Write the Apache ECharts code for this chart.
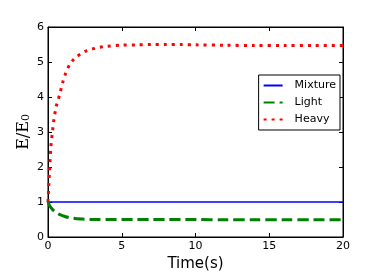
<!DOCTYPE html>
<html><head><meta charset="utf-8">
<script src="https://cdn.jsdelivr.net/npm/echarts@6/dist/echarts.min.js"></script>
<style>html,body{margin:0;padding:0;background:#fff}#c{width:381px;height:277px}</style>
</head><body><div id="c"></div>
<script>
const time = [0,0.05,0.1,0.2,0.3,0.4,0.5,0.6,0.8,1,1.2,1.5,1.75,2,2.5,3,3.5,4,5,6,7,8,9,10,12,14,16,18,20];
const mixture = [1,1,1,1,1,1,1,1,1,1,1,1,1,1,1,1,1,1,1,1,1,1,1,1,1,1,1,1,1];
const light = [1,0.95,0.9,0.84,0.79,0.75,0.72,0.69,0.64,0.61,0.58,0.55,0.535,0.52,0.51,0.5,0.5,0.5,0.5,0.5,0.5,0.5,0.5,0.5,0.49,0.49,0.49,0.49,0.49];
const heavy = [1,1.45,1.85,2.6,3.0,3.35,3.6,3.8,4.08,4.42,4.68,4.95,5.08,5.17,5.3,5.37,5.42,5.45,5.48,5.49,5.5,5.5,5.5,5.49,5.48,5.47,5.47,5.47,5.47];
const xTicks = [0,5,10,15,20];
const yTicks = [0,1,2,3,4,5,6];

const pairs = v => time.map((t,i)=>[t,v[i]]);
const chart = echarts.init(document.getElementById('c'));
const axisCommon = () => ({
  axisLine:{show:true,onZero:false,lineStyle:{color:'#000',width:1}},
  axisTick:{show:true,inside:true,length:4,lineStyle:{color:'#000'}},
  splitLine:{show:false}
});
chart.setOption({
  animation:false,
  textStyle:{fontFamily:'DejaVu Sans'},
  grid:{left:48,right:38,top:27,bottom:35,show:true,borderColor:'#000',borderWidth:1,backgroundColor:'transparent'},
  xAxis:[
    Object.assign({type:'value',min:0,max:20,interval:5,position:'bottom',
      name:'Time(s)',nameLocation:'middle',nameGap:20,nameMoveOverlap:false,
      nameTextStyle:{fontSize:15,color:'#000',fontFamily:'DejaVu Sans'},
      axisLabel:{fontSize:11,color:'#000',margin:4}},axisCommon()),
    Object.assign({type:'value',min:0,max:20,interval:5,position:'top',axisLabel:{show:false}},axisCommon())
  ],
  yAxis:[
    Object.assign({type:'value',min:0,max:6,interval:1,position:'left',
      name:'{a|E/E}{b|0}',nameLocation:'middle',nameGap:16,nameRotate:90,nameMoveOverlap:false,
      nameTextStyle:{rich:{a:{fontSize:16,fontFamily:'DejaVu Serif',color:'#000'},b:{fontSize:11,fontFamily:'DejaVu Serif',color:'#000',padding:[6,0,0,0]}}},
      axisLabel:{fontSize:11,color:'#000',margin:4}},axisCommon()),
    Object.assign({type:'value',min:0,max:6,interval:1,position:'right',axisLabel:{show:false}},axisCommon())
  ],
  legend:{
    orient:'vertical',right:41,top:75,
    backgroundColor:'#fff',borderColor:'#000',borderWidth:1,borderRadius:0,
    padding:[5,4,5,4],itemWidth:19,itemHeight:12,itemGap:6,
    textStyle:{fontSize:11,color:'#000',fontFamily:'DejaVu Sans',padding:[0,0,0,7]},
    data:['Mixture','Light','Heavy']
  },
  series:[
    {name:'Mixture',type:'line',data:pairs(mixture),symbol:'none',lineStyle:{color:'#0000ff',width:1.3},itemStyle:{color:'#0000ff',opacity:0}},
    {name:'Light',type:'line',data:pairs(light),symbol:'none',smooth:0.3,lineStyle:{color:'#008000',width:3,type:[11,5]},itemStyle:{color:'#008000',opacity:0}},
    {name:'Heavy',type:'line',data:pairs(heavy),symbol:'none',smooth:0.3,lineStyle:{color:'#ff0000',width:3,type:[3,5]},itemStyle:{color:'#ff0000',opacity:0}}
  ]
});
</script></body></html>
